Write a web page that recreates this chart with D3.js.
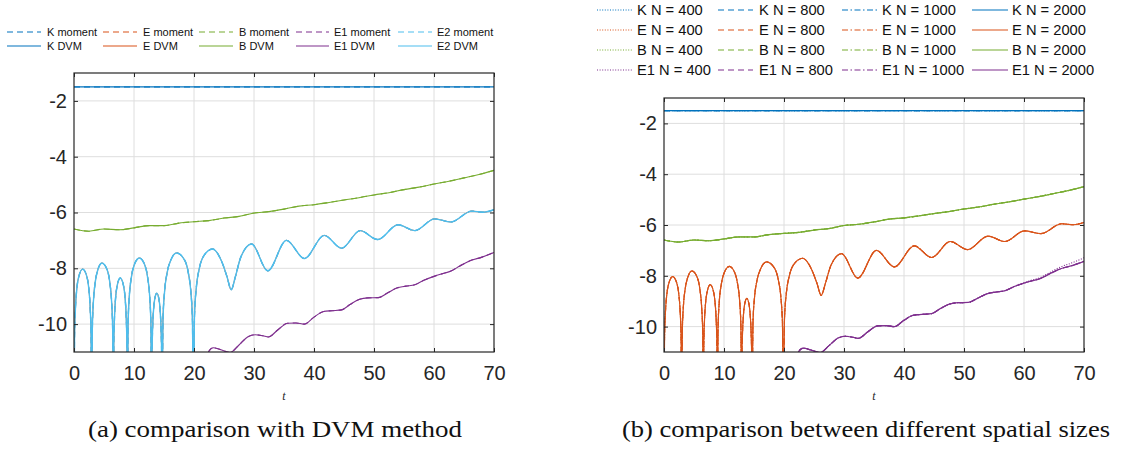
<!DOCTYPE html>
<html><head><meta charset="utf-8">
<script src="https://cdn.jsdelivr.net/npm/d3@7"></script>
<style>body{margin:0;background:#fff}svg{display:block}</style>
</head><body>
<svg id="c" width="1126" height="450"></svg>
<script>
// ---------------- data ----------------
const xTicks = [0, 10, 20, 30, 40, 50, 60, 70];
const yTicks = [-10, -8, -6, -4, -2];

const kT = [0, 70];
const kV = [-1.5, -1.5];

const eT = [0, 0.09, 0.24, 0.47, 0.82, 1.44, 2.12, 2.47, 2.70, 2.85, 2.94,
  3.05, 3.23, 3.52, 3.95, 4.65, 5.55, 5.98, 6.27, 6.45, 6.56,
  6.63, 6.75, 6.93, 7.21, 7.70, 8.24, 8.52, 8.70, 8.82, 8.89,
  9.01, 9.21, 9.54, 10.02, 10.90, 11.81, 12.29, 12.62, 12.82, 12.94,
  12.99, 13.08, 13.22, 13.42, 13.80, 14.19, 14.39, 14.53, 14.62, 14.67,
  14.83, 15.09, 15.51, 16.13, 17.10, 18.44, 19.06, 19.48, 19.74, 19.90,
  20.08, 20.38, 20.86, 21.58, 23.10, 24.60, 25.50, 26.20, 26.90, 27.80, 29.60,
  32.30, 35.40, 38.40, 41.70, 44.60, 47.70, 50.60, 54.00, 56.80, 60.10, 62.80, 66.30, 68.20, 70.00];
const eV = [-13, -10.43, -9.43, -8.73, -8.28, -8.03, -8.28, -8.73, -9.43, -10.43, -13,
  -10.21, -9.21, -8.53, -8.07, -7.81, -8.07, -8.53, -9.21, -10.21, -13,
  -10.75, -9.75, -9.07, -8.61, -8.35, -8.61, -9.07, -9.75, -10.75, -13,
  -10.03, -9.03, -8.35, -7.89, -7.63, -7.89, -8.35, -9.03, -10.03, -13,
  -11.29, -10.29, -9.61, -9.15, -8.89, -9.15, -9.61, -10.29, -11.29, -13,
  -9.85, -8.85, -8.17, -7.71, -7.45, -7.71, -8.17, -8.85, -9.85, -13,
  -9.71, -8.71, -8.03, -7.57, -7.31, -7.75, -8.30, -8.77, -8.30, -7.60, -7.13,
  -8.09, -7.00, -7.65, -6.82, -7.28, -6.65, -6.97, -6.44, -6.65, -6.23, -6.34, -5.95, -5.99, -5.90];

const bT = [0, 2.5, 5, 7.5, 10, 12.5, 15, 17.5, 20, 22.5, 25, 27.5, 30, 32.5, 35,
  37.5, 40, 42.5, 45, 47.5, 50, 52.5, 55, 57.5, 60, 62.5, 65, 67.5, 70];
const bV = [-6.59, -6.67, -6.59, -6.62, -6.55, -6.47, -6.47, -6.38, -6.33, -6.29, -6.20, -6.14, -6.02, -5.97, -5.88,
  -5.77, -5.72, -5.64, -5.55, -5.47, -5.37, -5.29, -5.18, -5.09, -4.98, -4.88, -4.76, -4.64, -4.49];

const e1T = [21.8, 22.4, 23.2, 24.5, 26.0, 27.5, 29.0, 30.2, 31.5, 32.4, 34.0, 35.6, 37.0, 38.4, 40.0, 41.6, 43.0,
  44.6, 46.0, 47.6, 49.0, 50.7, 52.3, 53.8, 55.3, 56.8, 58.4, 60.0, 61.3, 62.7, 64.3, 66.0, 68.0, 70.0];
const e1V = [-11.4, -11.0, -10.85, -10.92, -11.02, -10.75, -10.45, -10.38, -10.42, -10.46, -10.2, -9.97, -9.96, -10.0,
  -9.75, -9.55, -9.52, -9.49, -9.3, -9.11, -9.06, -9.05, -8.88, -8.71, -8.64, -8.59, -8.42, -8.29, -8.2, -8.11,
  -7.92, -7.73, -7.6, -7.43];
const e1V400 = [-11.4, -11.0, -10.85, -10.92, -11.02, -10.75, -10.45, -10.38, -10.42, -10.46, -10.2, -9.97, -9.96, -10.0,
  -9.75, -9.55, -9.52, -9.49, -9.3, -9.11, -9.06, -9.05, -8.88, -8.71, -8.64, -8.59, -8.41, -8.27, -8.17, -8.07,
  -7.87, -7.66, -7.49, -7.29];

const legendA = [["K moment", "E moment", "B moment", "E1 moment", "E2 moment"],
                 ["K DVM", "E DVM", "B DVM", "E1 DVM", "E2 DVM"]];
const legendB = [["K N = 400", "K N = 800", "K N = 1000", "K N = 2000"],
                 ["E N = 400", "E N = 800", "E N = 1000", "E N = 2000"],
                 ["B N = 400", "B N = 800", "B N = 1000", "B N = 2000"],
                 ["E1 N = 400", "E1 N = 800", "E1 N = 1000", "E1 N = 2000"]];
const captionA = "(a) comparison with DVM method";
const captionB = "(b) comparison between different spatial sizes";
const xLabel = "t";

// ---------------- styles ----------------
const COL = {K: "#0072BD", E: "#D95319", B: "#77AC30", E1: "#7E2F8E", E2: "#4DBEEE"};
const DASH = {solid: null, dotted: "1,1.6", dashed: "6,4", dashdot: "6,2.5,1.5,2.5"};
const AX = "#262626";
const SANS = "'Liberation Sans', Arial, Helvetica, sans-serif";
const SERIF = "'Liberation Serif', 'Times New Roman', serif";

const svg = d3.select("#c");
const pts = (T, V) => T.map((t, i) => [t, V[i]]);

function panel(id, x0, x1, y0, y1, series) {
  const x = d3.scaleLinear().domain([0, 70]).range([x0, x1]);
  const y = d3.scaleLinear().domain([-11, -1]).range([y1, y0]);
  const g = svg.append("g");
  g.append("clipPath").attr("id", id).append("rect")
    .attr("x", x0).attr("y", y0).attr("width", x1 - x0).attr("height", y1 - y0);
  // grid
  g.append("g").selectAll("line").data(xTicks.slice(1, -1)).join("line")
    .attr("x1", d => x(d)).attr("x2", d => x(d)).attr("y1", y0).attr("y2", y1)
    .attr("stroke", "#dedede").attr("stroke-width", 1);
  g.append("g").selectAll("line").data(yTicks).join("line")
    .attr("y1", d => y(d)).attr("y2", d => y(d)).attr("x1", x0).attr("x2", x1)
    .attr("stroke", "#dedede").attr("stroke-width", 1);
  // lines
  const line = d3.line().x(d => x(d[0])).y(d => y(d[1])).curve(d3.curveMonotoneX);
  const lg = g.append("g").attr("clip-path", `url(#${id})`);
  series.forEach(s => {
    lg.append("path").attr("d", line(s.data)).attr("fill", "none")
      .attr("stroke", s.color).attr("stroke-width", s.w || 1.1)
      .attr("stroke-dasharray", DASH[s.dash]);
  });
  // axes
  const ax = (sel) => sel.selectAll("path,line").attr("stroke", AX);
  const tx = (sel) => sel.selectAll("text").attr("fill", AX)
    .style("font-family", SANS).attr("font-size", 20);
  g.append("g").attr("transform", `translate(0,${y1})`)
    .call(d3.axisBottom(x).tickValues(xTicks).tickSizeInner(-4).tickSizeOuter(0).tickPadding(14).tickFormat(d3.format("d")))
    .call(ax).call(tx);
  g.append("g").attr("transform", `translate(0,${y0})`)
    .call(d3.axisTop(x).tickValues(xTicks).tickSizeInner(-4).tickSizeOuter(0).tickFormat(""))
    .call(ax);
  g.append("g").attr("transform", `translate(${x0},0)`)
    .call(d3.axisLeft(y).tickValues(yTicks).tickSizeInner(-4).tickSizeOuter(0).tickPadding(7).tickFormat(d => String(d)))
    .call(ax).call(tx);
  g.append("g").attr("transform", `translate(${x1},0)`)
    .call(d3.axisRight(y).tickValues(yTicks).tickSizeInner(-4).tickSizeOuter(0).tickFormat(""))
    .call(ax);
  g.selectAll(".domain").remove();
  g.append("rect").attr("x", x0).attr("y", y0).attr("width", x1 - x0).attr("height", y1 - y0)
    .attr("fill", "none").attr("stroke", AX).attr("stroke-width", 1.2);
  g.append("text").attr("x", (x0 + x1) / 2).attr("y", 400).attr("text-anchor", "middle")
    .style("font-family", SERIF).attr("font-style", "italic").attr("font-size", 12)
    .attr("fill", AX).text(xLabel);
}

// ---------------- panel (a) ----------------
const K = pts(kT, kV), E = pts(eT, eV), B = pts(bT, bV), E1 = pts(e1T, e1V), E1b = pts(e1T, e1V400);
panel("clipA", 74, 494, 73, 352, [
  {data: K, color: COL.K, dash: "dashed"},
  {data: E, color: COL.E, dash: "dashed", w: 0.9},
  {data: B, color: COL.B, dash: "dashed"},
  {data: E1, color: COL.E1, dash: "dashed"},
  {data: K, color: COL.K, dash: "solid", w: 1.3},
  {data: E, color: COL.E, dash: "solid", w: 0.9},
  {data: B, color: COL.B, dash: "solid"},
  {data: E1, color: COL.E1, dash: "solid"},
  {data: E, color: COL.E2, dash: "dashed", w: 1.4},
  {data: E, color: COL.E2, dash: "solid", w: 1.4}
]);

// ---------------- panel (b) ----------------
const sB = [];
[["K", K, K], ["E", E, E], ["B", B, B], ["E1", E1, E1b]].forEach(([k, d, d400]) => {
  sB.push({data: d400, color: COL[k], dash: "dotted"});
  sB.push({data: d, color: COL[k], dash: "dashed"});
  sB.push({data: d, color: COL[k], dash: "dashdot"});
});
[["K", K], ["E", E], ["B", B], ["E1", E1]].forEach(([k, d]) =>
  sB.push({data: d, color: COL[k], dash: "solid", w: k === "K" ? 1.3 : 1.2}));
panel("clipB", 664, 1084, 98, 352, sB);

// ---------------- legends ----------------
function legendItem(lx0, lx1, ly, tx, label, color, dash, fs) {
  svg.append("line").attr("x1", lx0).attr("x2", lx1).attr("y1", ly).attr("y2", ly)
    .attr("stroke", color).attr("stroke-width", 1.1).attr("stroke-dasharray", DASH[dash]);
  svg.append("text").attr("x", tx).attr("y", ly).attr("dy", "0.35em")
    .style("font-family", SANS).attr("font-size", fs)
    .attr("fill", "#111").text(label);
}
const aCols = [[7, 41, 47], [103, 137, 143], [199, 233, 239], [296, 329, 334], [398, 432, 437]];
const aKeys = ["K", "E", "B", "E1", "E2"];
legendA.forEach((row, r) => row.forEach((lab, c) =>
  legendItem(aCols[c][0], aCols[c][1], 32 + r * 14, aCols[c][2], lab, COL[aKeys[c]], r === 0 ? "dashed" : "solid", 11)));

const bCols = [[597, 633, 637], [718, 753, 759], [842, 878, 882], [972, 1008, 1012]];
const bKeys = ["K", "E", "B", "E1"];
const bDash = ["dotted", "dashed", "dashdot", "solid"];
legendB.forEach((row, r) => row.forEach((lab, c) =>
  legendItem(bCols[c][0], bCols[c][1], 10 + r * 20, bCols[c][2], lab, COL[bKeys[r]], bDash[c], 14.7)));

// ---------------- captions ----------------
svg.append("text").attr("x", 88).attr("y", 437).style("font-family", SERIF)
  .attr("font-size", 23).attr("fill", "#111").attr("textLength", 374).attr("lengthAdjust", "spacingAndGlyphs").text(captionA);
svg.append("text").attr("x", 622).attr("y", 437).style("font-family", SERIF)
  .attr("font-size", 23).attr("fill", "#111").attr("textLength", 488).attr("lengthAdjust", "spacingAndGlyphs").text(captionB);
</script>
</body></html>
